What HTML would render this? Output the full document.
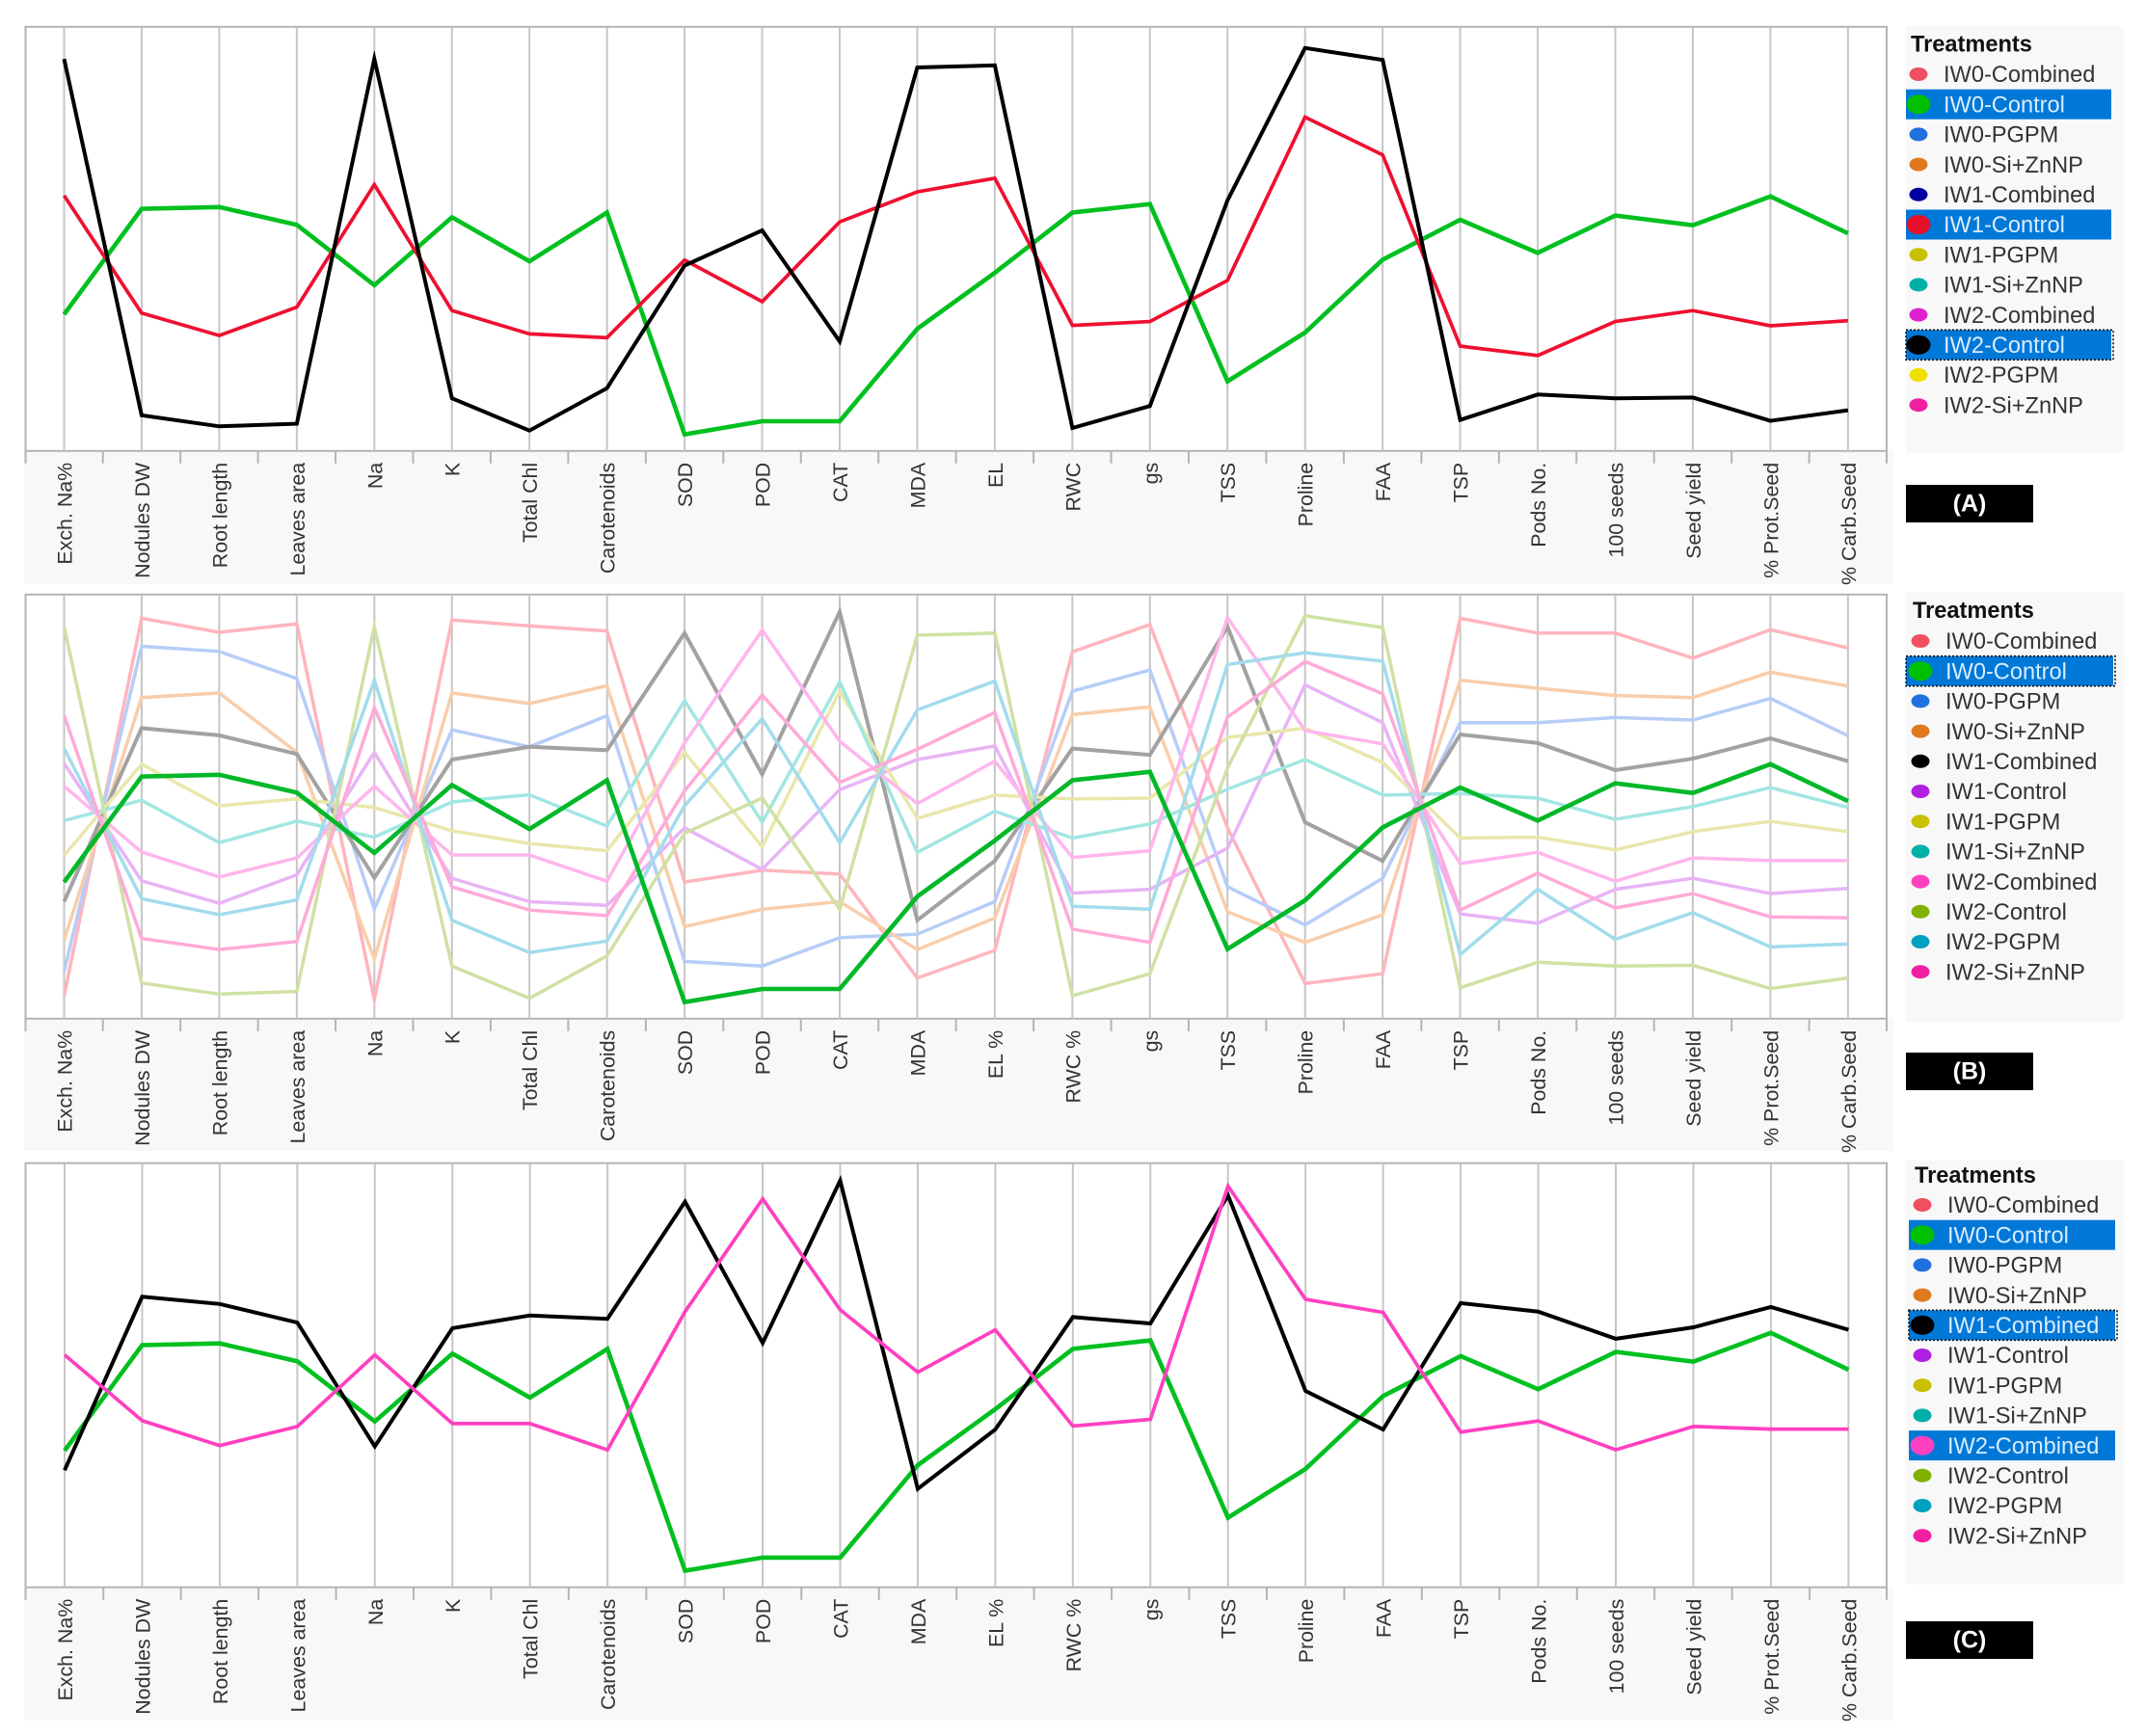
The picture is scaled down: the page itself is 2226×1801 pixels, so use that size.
<!DOCTYPE html>
<html lang="en">
<head>
<meta charset="utf-8">
<title>Parallel coordinates of treatments</title>
<style>
html,body{margin:0;padding:0;background:#fff;}
svg{display:block;font-family:"Liberation Sans",sans-serif;}
</style>
</head>
<body>
<svg id="figure" xmlns="http://www.w3.org/2000/svg" width="2226" height="1801" viewBox="0 0 2226 1801"></svg>
<script>
// Trait labels (x axis categories)
const traitsA = ["Exch. Na%","Nodules DW","Root length","Leaves area","Na","K","Total Chl","Carotenoids","SOD","POD","CAT","MDA","EL","RWC","gs","TSS","Proline","FAA","TSP","Pods No.","100 seeds","Seed yield","% Prot.Seed","% Carb.Seed"];
const traitsBC = ["Exch. Na%","Nodules DW","Root length","Leaves area","Na","K","Total Chl","Carotenoids","SOD","POD","CAT","MDA","EL %","RWC %","gs","TSS","Proline","FAA","TSP","Pods No.","100 seeds","Seed yield","% Prot.Seed","% Carb.Seed"];

// Treatment names
const treatments = ["IW0-Combined","IW0-Control","IW0-PGPM","IW0-Si+ZnNP","IW1-Combined","IW1-Control","IW1-PGPM","IW1-Si+ZnNP","IW2-Combined","IW2-Control","IW2-PGPM","IW2-Si+ZnNP"];

// Series values: relative level of each trait, 0-100 on the un-ticked vertical scale
const iw0Combined = [5.4,94.4,91.1,93.1,4.5,94.0,92.6,91.4,32.2,35.0,34.1,9.6,16.1,86.5,92.9,45.0,8.3,10.6,94.4,90.9,90.9,85.0,91.7,87.4];
const iw0Control  = [32.2,57.1,57.5,53.3,39.1,55.1,44.7,56.2,3.9,7.0,7.0,28.8,42.0,56.2,58.2,16.4,27.9,45.1,54.5,46.7,55.5,53.2,60.0,51.3];
const iw0Pgpm     = [11.1,87.8,86.6,80.2,25.8,68.1,64.1,71.4,13.5,12.4,19.1,19.9,27.6,77.2,82.2,31.1,22.1,33.1,69.8,69.8,71.0,70.4,75.5,66.7];
const iw0SiZn     = [18.5,75.7,76.8,62.8,14.1,76.8,74.3,78.5,21.7,25.8,27.6,16.3,23.7,71.7,73.5,25.2,18.0,24.5,79.8,77.9,76.2,75.7,81.7,78.4];
const iw1Combined = [27.6,68.5,66.8,62.4,33.2,61.1,64.1,63.3,90.9,57.6,95.9,23.2,37.2,63.7,62.2,92.4,46.3,37.2,67.0,65.0,58.6,61.3,66.1,60.7];
const iw1Control  = [60.2,32.5,27.2,33.9,62.8,33.1,27.6,26.7,45.0,35.2,54.0,61.1,64.3,29.6,30.5,40.2,78.7,69.8,24.7,22.5,30.5,33.1,29.5,30.7];
const iw1Pgpm     = [38.5,60.0,50.2,51.8,49.8,44.3,41.3,39.6,62.8,40.6,77.2,47.2,52.7,51.8,52.0,66.3,68.5,60.4,42.6,42.8,39.8,44.1,46.5,44.1];
const iw1SiZn     = [46.7,51.5,41.5,46.6,42.8,51.1,52.8,45.4,75.0,46.3,79.4,39.2,48.9,42.6,45.9,54.1,61.1,52.7,53.1,52.0,47.0,50.0,54.5,49.8];
const iw2Combined = [54.8,39.3,33.4,37.9,54.8,38.6,38.6,32.4,65.0,91.6,65.4,50.7,60.7,38.0,39.6,94.6,67.9,64.8,36.6,39.2,32.4,37.9,37.3,37.3];
const iw2Control  = [92.4,8.4,5.8,6.4,92.4,12.4,4.8,14.8,43.7,52.0,25.8,90.4,90.9,5.4,10.6,59.1,95.0,92.2,7.3,13.3,12.4,12.6,7.1,9.6];
const iw2Pgpm     = [63.7,28.3,24.5,28.0,79.8,23.2,15.6,18.3,50.2,70.7,41.5,72.8,79.6,26.5,25.8,83.5,86.3,84.3,15.1,30.5,18.7,25.0,16.9,17.6];
const iw2SiZn     = [71.5,18.9,16.3,18.2,73.3,31.1,25.6,24.3,53.7,76.3,55.7,63.5,72.2,21.1,18.0,71.1,84.2,76.6,25.6,34.3,26.1,29.5,24.0,23.8];

const seriesValues = [iw0Combined,iw0Control,iw0Pgpm,iw0SiZn,iw1Combined,iw1Control,iw1Pgpm,iw1SiZn,iw2Combined,iw2Control,iw2Pgpm,iw2SiZn];

// Legend dot colours per panel
const dotColorsA  = ["#f0505f","#00c000","#2070e0","#e07820","#0000a0","#e81028","#c8c000","#00b0a8","#e020d0","#000000","#f0e000","#f020a0"];
const dotColorsBC = ["#f0505f","#00c000","#2070e0","#e07820","#000000","#b020e0","#c8c000","#00b0a8","#ff40c0","#80b000","#00a0c0","#f020a0"];
// Faded line colours used in panel B
const fadedColors = ["#ffb5bd","#00b828","#b6cdf8","#f9cdaa","#a2a2a2","#e8b4f6","#e9e7ab","#a2e6e2","#ffb6ec","#cfe1a4","#a2dcec","#ffaad8"];

const SVGNS = "http://www.w3.org/2000/svg";
const figure = document.getElementById("figure");
const PLOT_H = 440;

function make(tag, parent, attrs, text) {
  const el = document.createElementNS(SVGNS, tag);
  for (const k in attrs) el.setAttribute(k, attrs[k]);
  if (text !== undefined) el.textContent = text;
  parent.appendChild(el);
  return el;
}

function drawPanel(p) {
  const xScale = i => p.axisStart + 80.45 * i;
  const yScale = v => p.bottom - (v / 100) * PLOT_H;

  const g = make("g", figure, {});
  
  

  // Label strip background
  const strip = make("rect", g, {x:25, y:p.bottom, width:1939, height:p.stripBottom - p.bottom, fill:"#f8f8f8"});
  
  

  // Plot area
  const plot = make("rect", g, {x:26.5, y:p.bottom - PLOT_H, width:1930.5, height:PLOT_H, fill:"#ffffff", stroke:"#b4b4b4", "stroke-width":2});
  
  

  // Vertical axes
  p.traits.forEach((t, i) => {
    const x = xScale(i);
    const axis = make("line", g, {x1:x, x2:x, y1:p.bottom - PLOT_H + 1, y2:p.bottom, stroke:"#c6c6c6", "stroke-width":2});
    
    
  });

  // Tick marks between axes, plus plot ends
  for (let i = -1; i < p.traits.length; i++) {
    const x = i < 0 ? 26.5 : (i === p.traits.length - 1 ? 1957 : xScale(i) + 40.2);
    const tick = make("line", g, {x1:x, x2:x, y1:p.bottom, y2:p.bottom + 13, stroke:"#b4b4b4", "stroke-width":2});
    
    
  }

  // Axis labels
  p.traits.forEach((t, i) => {
    const x = xScale(i) + 1;
    const y = p.bottom + 12;
    const label = make("text", g, {
      x:x, y:y, transform:"rotate(-90 " + x + " " + y + ")",
      "text-anchor":"end", "dominant-baseline":"central",
      "font-size":"21.4", fill:"#333333"
    }, t);
    
    
  });

  // Series lines
  p.draw.forEach(d => {
    const pts = seriesValues[d.index].map((v, i) => xScale(i).toFixed(1) + "," + yScale(v).toFixed(1)).join(" ");
    const line = make("polyline", g, {
      points:pts, fill:"none", stroke:d.color, "stroke-width":d.width,
      "stroke-linejoin":"miter", "stroke-miterlimit":8
    });
    
    
  });

  // Legend
  const lg = make("g", g, {});
  
  

  const legendBg = make("rect", lg, {x:1977, y:p.legendTop, width:226, height:p.legendBottom - p.legendTop, fill:"#f8f8f8"});
  
  

  const title = make("text", lg, {x:p.titleX, y:p.titleY, "dominant-baseline":"central", "font-size":"23.6", "font-weight":"bold", fill:"#111111"}, "Treatments");
  
  

  treatments.forEach((name, i) => {
    const cy = p.itemY + 31.2 * i;
    const selected = p.selected.indexOf(i) >= 0;
    const entry = make("g", lg, {});
    
    
    if (selected) {
      const hl = make("rect", entry, {x:p.hlX, y:cy - 15.5, width:p.hlW, height:31, fill:"#0078d7"});
      
      
    }
    if (i === p.focused) {
      const fb = make("rect", entry, {x:p.hlX, y:cy - 15.5, width:p.hlW + 2, height:31, fill:"none", stroke:"#111111", "stroke-width":1.6, "stroke-dasharray":"2 2"});
      
      
    }
    const dot = make("ellipse", entry, {cx:p.dotX, cy:cy, rx:selected ? 12.5 : 9.5, ry:selected ? 10 : 7, fill:p.dots[i]});
    
    
    const txt = make("text", entry, {x:p.textX, y:cy + 1.2, "dominant-baseline":"central", "font-size":"23.6", fill:selected ? "#d8ecff" : "#333333"}, name);
    
    
  });

  // Panel letter
  const badge = make("rect", g, {x:1977, y:p.badgeY, width:132, height:39, fill:"#000000"});
  
  
  const badgeText = make("text", g, {x:2043, y:p.badgeY + 19.5, "text-anchor":"middle", "dominant-baseline":"central", "font-size":"25", "font-weight":"bold", fill:"#ffffff"}, "(" + p.id + ")");
  
  
}

const fadedOrder = [0,2,3,4,5,6,7,8,9,10,11];

drawPanel({
  id:"A", traits:traitsA, axisStart:66.5, bottom:467.8, stripBottom:606,
  legendTop:27, legendBottom:470, titleX:1982, titleY:46.7, itemY:77, dotX:1990, textX:2016,
  hlX:1977, hlW:213, selected:[1,5,9], focused:9, dots:dotColorsA, badgeY:503,
  draw:[{index:1,color:"#00c020",width:4.6},{index:5,color:"#ee1030",width:3.7},{index:9,color:"#000000",width:4}]
});

drawPanel({
  id:"B", traits:traitsBC, axisStart:66.5, bottom:1056.8, stripBottom:1194,
  legendTop:614, legendBottom:1060, titleX:1984, titleY:634, itemY:665, dotX:1992, textX:2018,
  hlX:1977, hlW:215, selected:[1], focused:1, dots:dotColorsBC, badgeY:1092,
  draw:fadedOrder.map(i => ({index:i,color:fadedColors[i],width:i === 4 ? 4 : 3.5})).concat([{index:1,color:"#00b828",width:4.6}])
});

drawPanel({
  id:"C", traits:traitsBC, axisStart:67, bottom:1646.7, stripBottom:1785,
  legendTop:1203.5, legendBottom:1643.5, titleX:1986, titleY:1220, itemY:1250, dotX:1994, textX:2020,
  hlX:1980, hlW:214, selected:[1,4,8], focused:4, dots:dotColorsBC, badgeY:1682,
  draw:[{index:1,color:"#00c020",width:4.6},{index:4,color:"#000000",width:4},{index:8,color:"#ff40c0",width:3.7}]
});
</script>
</body>
</html>
